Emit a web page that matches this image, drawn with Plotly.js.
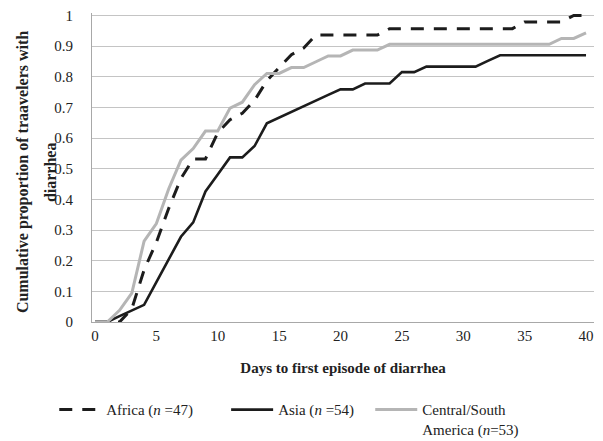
<!DOCTYPE html>
<html>
<head>
<meta charset="utf-8">
<script src="https://cdn.plot.ly/plotly-3.0.1.min.js"></script>
<style>html,body{margin:0;padding:0;background:#fff;}#chart{width:603px;height:441px;}</style>
</head>
<body>
<div id="chart"></div>
<script>
// Days to first episode of diarrhea
var days = [0,1,2,3,4,5,6,7,8,9,10,11,12,13,14,15,16,17,18,19,20,21,22,23,24,25,26,27,28,29,30,31,32,33,34,35,36,37,38,39,40];

// Africa (n=47)
var africa = [0,0,0,0.043,0.17,0.26,0.37,0.468,0.532,0.532,0.617,0.66,0.681,0.723,0.787,0.83,0.872,0.894,0.936,0.936,0.936,0.936,0.936,0.936,0.957,0.957,0.957,0.957,0.957,0.957,0.957,0.957,0.957,0.957,0.957,0.979,0.979,0.979,0.979,1,1];

// Asia (n=54)
var asia = [0,0,0.019,0.037,0.056,0.13,0.204,0.278,0.325,0.426,0.481,0.537,0.537,0.574,0.648,0.667,0.685,0.704,0.722,0.741,0.759,0.759,0.778,0.778,0.778,0.815,0.815,0.833,0.833,0.833,0.833,0.833,0.852,0.870,0.870,0.870,0.870,0.870,0.870,0.870,0.870];

// Central/South America (n=53)
var csAmerica = [0,0,0.038,0.094,0.264,0.321,0.434,0.528,0.566,0.623,0.623,0.698,0.717,0.774,0.811,0.811,0.830,0.830,0.849,0.868,0.868,0.887,0.887,0.887,0.906,0.906,0.906,0.906,0.906,0.906,0.906,0.906,0.906,0.906,0.906,0.906,0.906,0.906,0.925,0.925,0.943];

var seriesNames = ['Africa (<i>n</i> =47)', 'Asia (<i>n</i> =54)', 'Central/South<br>America (<i>n</i>=53)'];
var xTickVals = [0,5,10,15,20,25,30,35,40];
var yTickVals = [0,0.1,0.2,0.3,0.4,0.5,0.6,0.7,0.8,0.9,1];
var yTickText = ['0','0.1','0.2','0.3','0.4','0.5','0.6','0.7','0.8','0.9','1'];
var yTitleLines = ['Cumulative proportion of traavelers with', 'diarrhea'];

var serif = 'Liberation Serif, Times New Roman, serif';
var txt = '#222222';

var traces = [
  {x: days, y: africa, name: seriesNames[0], type: 'scatter', mode: 'lines',
   line: {color: '#1c1c1c', width: 3, dash: '13px,10px'}, legend: 'legend'},
  {x: days, y: asia, name: seriesNames[1], type: 'scatter', mode: 'lines',
   line: {color: '#1c1c1c', width: 2.6}, legend: 'legend2'},
  {x: days, y: csAmerica, name: seriesNames[2], type: 'scatter', mode: 'lines',
   line: {color: '#b5b5b5', width: 3}, legend: 'legend3'}
];

var legFont = {family: serif, size: 15, color: txt};
function leg(xpos) {
  return {orientation: 'h', xref: 'container', yref: 'container', x: xpos, y: 0.108,
          xanchor: 'left', yanchor: 'top', font: legFont, bgcolor: 'rgba(0,0,0,0)',
          valign: 'top', itemwidth: 42};
}
var yTitleFont = {family: serif, size: 16, color: txt, weight: 'bold'};
var layout = {
  width: 603, height: 441,
  margin: {l: 92, r: 9, t: 13, b: 119, autoexpand: false},
  paper_bgcolor: '#ffffff', plot_bgcolor: '#ffffff',
  showlegend: true,
  xaxis: {
    range: [-0.244, 40.65], tickvals: xTickVals, showgrid: false, zeroline: false,
    showline: true, linecolor: '#a8a8a8', linewidth: 1, ticks: '', automargin: false,
    tickfont: {family: serif, size: 15, color: txt},
    title: {text: 'Days to first episode of diarrhea', font: {family: serif, size: 15, color: txt, weight: 'bold'}, standoff: 19}
  },
  yaxis: {
    range: [0, 1.008], tickvals: yTickVals, ticktext: yTickText,
    showgrid: true, gridcolor: '#c4c4c4', gridwidth: 1, zeroline: false,
    showline: true, linecolor: '#a8a8a8', linewidth: 1, ticks: '', automargin: false,
    ticklabelstandoff: 15,
    tickfont: {family: serif, size: 15, color: txt}
  },
  annotations: [
    {text: yTitleLines[0], xref: 'paper', yref: 'paper', x: -0.1375, y: 0.485, xanchor: 'center', yanchor: 'middle',
     textangle: -90, showarrow: false, font: yTitleFont},
    {text: yTitleLines[1], xref: 'paper', yref: 'paper', x: -0.0837, y: 0.485, xanchor: 'center', yanchor: 'middle',
     textangle: -90, showarrow: false, font: yTitleFont}
  ],
  legend: leg(0.09),
  legend2: leg(0.375),
  legend3: leg(0.614)
};

Plotly.newPlot('chart', traces, layout, {displayModeBar: false, staticPlot: true});
</script>
</body>
</html>
